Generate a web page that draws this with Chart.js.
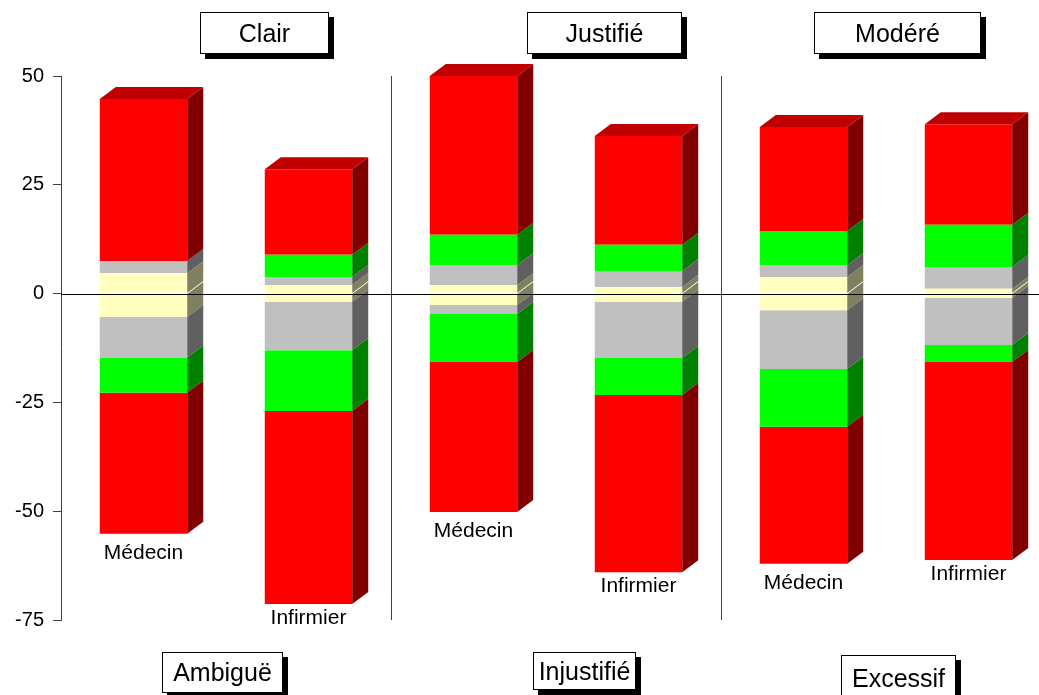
<!DOCTYPE html>
<html>
<head>
<meta charset="utf-8">
<script src="https://cdn.jsdelivr.net/npm/chart.js@4"></script>
<style>
  body { margin: 0; background: #fff; overflow: hidden; }
  #wrap { position: absolute; left: 0; top: 0; width: 1060px; height: 695px; }
  .box {
    position: absolute; box-sizing: border-box; background: #fff;
    border: 1.5px solid #000; box-shadow: 5px 5px 0 #000;
    font-family: "Liberation Sans", Arial, sans-serif; font-size: 25px;
    display: flex; align-items: center; justify-content: center; color: #000;
  }
</style>
</head>
<body>
<div id="wrap"><canvas id="chart"></canvas></div>
<div class="box" style="left:200px;top:12px;width:129px;height:42px;">Clair</div>
<div class="box" style="left:527px;top:12px;width:155px;height:42px;">Justifié</div>
<div class="box" style="left:814px;top:12px;width:167px;height:42px;">Modéré</div>
<div class="box" style="left:162px;top:652px;width:121px;height:41px;">Ambiguë</div>
<div class="box" style="left:533px;top:652px;width:103px;height:38px;">Injustifié</div>
<div class="box" style="left:841px;top:655px;width:115px;height:46px;">Excessif</div>
<script>
const categories = ["Médecin", "Infirmier", "Médecin", "Infirmier", "Médecin", "Infirmier"];

// upper half of each bar, stacked from 0 upward
const posYellow = [4.7, 2.0, 2.0, 1.5, 3.8, 1.1];
const posGray   = [2.8, 1.8, 4.6, 3.7, 2.8, 5.0];
const posGreen  = [0.0, 5.1, 6.9, 6.0, 7.8, 9.7];
const posRed    = [37.2, 19.7, 36.5, 25.0, 23.9, 23.1];

// lower half, stacked from 0 downward
const negYellow = [-5.4, -1.9, -2.6, -1.9, -3.8, -1.0];
const negGray   = [-9.3, -11.1, -2.1, -12.9, -13.5, -10.8];
const negGreen  = [-8.1, -14.0, -11.0, -8.5, -13.3, -3.9];
const negRed    = [-32.4, -44.3, -34.5, -40.7, -31.5, -45.5];

const yTicks = [50, 25, 0, -25, -50, -75];

const FONT = '"Liberation Sans", Arial, sans-serif';
const DX = 16, DY = 12;

const colors = {
  yellow: ["#ffffc0", "#808060"],
  gray:   ["#c0c0c0", "#606060"],
  green:  ["#00ff00", "#008000"],
  red:    ["#ff0000", "#800000"]
};

function makeSet(data, c) {
  return {
    data: data,
    backgroundColor: colors[c][0],
    sideColor: colors[c][1],
    borderWidth: 0,
    categoryPercentage: 1,
    barPercentage: 0.53
  };
}

const datasets = [
  makeSet(posYellow, "yellow"), makeSet(posGray, "gray"),
  makeSet(posGreen, "green"), makeSet(posRed, "red"),
  makeSet(negYellow, "yellow"), makeSet(negGray, "gray"),
  makeSet(negGreen, "green"), makeSet(negRed, "red")
];

const bar3d = {
  id: "bar3d",
  beforeDatasetsDraw(chart) {
    const ctx = chart.ctx, area = chart.chartArea, xs = chart.scales.x;
    ctx.save();
    ctx.strokeStyle = "#404040";
    ctx.lineWidth = 1;
    [1, 3].forEach(i => {
      const x = Math.round((xs.getPixelForValue(i) + xs.getPixelForValue(i + 1)) / 2) + 0.5;
      ctx.beginPath();
      ctx.moveTo(x, area.top);
      ctx.lineTo(x, area.bottom);
      ctx.stroke();
    });
    ctx.restore();
  },
  afterDatasetsDraw(chart) {
    const ctx = chart.ctx, area = chart.chartArea, ys = chart.scales.y;
    ctx.save();
    chart.data.datasets.forEach((ds, di) => {
      const meta = chart.getDatasetMeta(di);
      meta.data.forEach(bar => {
        const p = bar.getProps(["x", "y", "base", "width"], true);
        const top = Math.min(p.y, p.base), bottom = Math.max(p.y, p.base);
        if (bottom - top < 0.5) return;
        const right = p.x + p.width / 2;
        ctx.fillStyle = ds.sideColor;
        ctx.beginPath();
        ctx.moveTo(right, top);
        ctx.lineTo(right + DX, top - DY);
        ctx.lineTo(right + DX, bottom - DY);
        ctx.lineTo(right, bottom);
        ctx.closePath();
        ctx.fill();
      });
    });

    // top faces on the highest segment
    const topMeta = chart.getDatasetMeta(3);
    topMeta.data.forEach(bar => {
      const p = bar.getProps(["x", "y", "width"], true);
      const l = p.x - p.width / 2, r = p.x + p.width / 2;
      ctx.fillStyle = "#c00000";
      ctx.beginPath();
      ctx.moveTo(l, p.y);
      ctx.lineTo(l + DX, p.y - DY);
      ctx.lineTo(r + DX, p.y - DY);
      ctx.lineTo(r, p.y);
      ctx.closePath();
      ctx.fill();
    });

    // zero line
    const y0 = Math.round(ys.getPixelForValue(0)) + 0.5;
    ctx.strokeStyle = "#000";
    ctx.lineWidth = 1;
    ctx.beginPath();
    ctx.moveTo(area.left, y0);
    ctx.lineTo(area.right, y0);
    ctx.stroke();

    // category labels under each bar
    const botMeta = chart.getDatasetMeta(7);
    ctx.fillStyle = "#000";
    ctx.font = "21px " + FONT;
    ctx.textAlign = "center";
    ctx.textBaseline = "top";
    botMeta.data.forEach((bar, i) => {
      const p = bar.getProps(["x", "y"], true);
      const gap = i % 2 ? 4 : 9;
      ctx.fillText(categories[i], p.x, p.y + gap);
    });
    ctx.restore();
  }
};

new Chart(document.getElementById("chart"), {
  type: "bar",
  data: { labels: categories, datasets: datasets },
  options: {
    responsive: true,
    maintainAspectRatio: false,
    animation: false,
    layout: { padding: { top: 76, bottom: 75, left: 0, right: 9 } },
    plugins: { legend: { display: false }, tooltip: { enabled: false } },
    scales: {
      x: { stacked: true, display: false },
      y: {
        stacked: true,
        min: -75,
        max: 50,
        afterFit: s => { s.width = 61; },
        afterBuildTicks: s => { s.ticks = yTicks.map(v => ({ value: v })); },
        ticks: {
          color: "#000",
          padding: 9,
          font: { family: FONT, size: 20 }
        },
        grid: { drawOnChartArea: false, drawTicks: true, tickLength: 8, color: "#404040" },
        border: { display: true, color: "#404040", width: 1 }
      }
    }
  },
  plugins: [bar3d]
});
</script>
</body>
</html>
